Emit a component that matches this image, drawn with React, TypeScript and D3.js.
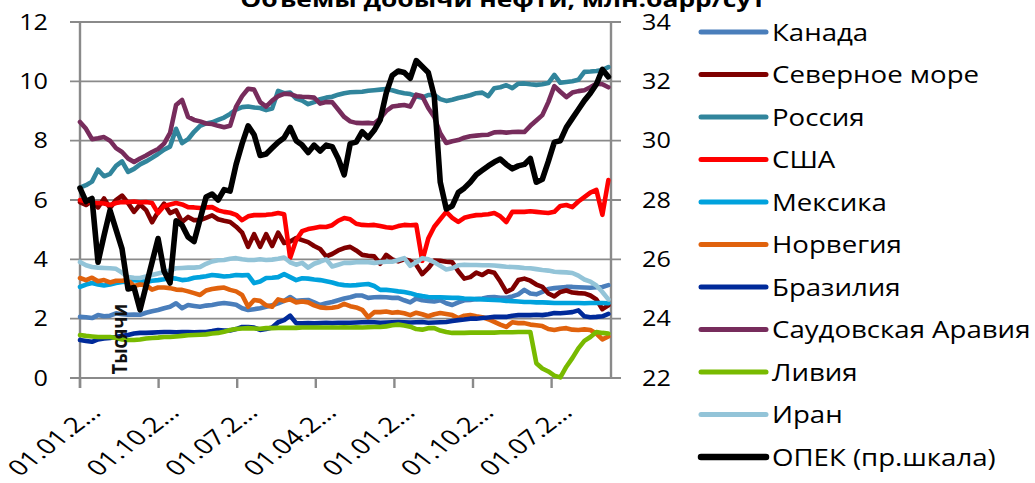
import React from "react";
import * as d3 from "d3";

// ---------- data ----------
const xTickMonths = [0, 9, 18, 27, 36, 45, 54];
const xTickLabels = ["01.01.2…", "01.10.2…", "01.07.2…", "01.04.2…", "01.01.2…", "01.10.2…", "01.07.2…"];
const leftTicks = [0, 2, 4, 6, 8, 10, 12];
const rightTicks = [22, 24, 26, 28, 30, 32, 34];
const obsStepMonths = 0.6875; // months between observations

const canada = [
  2.06, 2.05, 2.02, 2.12, 2.08, 2.1, 2.18, 2.15, 2.13, 2.14,
  2.13, 2.2, 2.25, 2.29, 2.35, 2.4, 2.52, 2.35, 2.46, 2.43,
  2.4, 2.44, 2.46, 2.5, 2.53, 2.5, 2.47, 2.35, 2.29, 2.32,
  2.35, 2.4, 2.45, 2.52, 2.6, 2.73, 2.6, 2.62, 2.63, 2.55,
  2.46, 2.52, 2.56, 2.62, 2.68, 2.72, 2.78, 2.78, 2.7, 2.72,
  2.73, 2.72, 2.7, 2.7, 2.62, 2.55, 2.68, 2.62, 2.6, 2.58,
  2.62, 2.52, 2.46, 2.55, 2.62, 2.63, 2.66, 2.68, 2.72, 2.73,
  2.7, 2.7, 2.75, 2.82, 2.97, 2.85, 2.82, 2.9, 3.0, 3.03,
  3.05, 3.07, 3.07, 3.06, 3.05, 3.04, 3.06, 3.07, 3.13,
];
const northSea = [
  5.93, 5.83, 5.98, 5.75, 6.05, 5.73, 6.0, 6.15, 5.9, 5.6,
  5.85, 5.66, 5.25, 5.6, 5.88, 5.56, 5.65, 5.26, 5.43, 5.32,
  5.32, 5.4, 5.48, 5.35, 5.3, 5.26, 5.1, 4.9, 4.42, 4.85,
  4.42, 4.85, 4.45, 4.9, 4.55, 4.6, 4.72, 4.65, 4.58, 4.45,
  4.35, 4.1, 4.18, 4.3, 4.38, 4.42, 4.3, 4.15, 4.12, 4.1,
  3.85, 4.15, 4.0, 3.93, 4.0, 3.95, 3.82, 3.5, 3.7, 3.96,
  3.95, 3.92, 3.9, 3.6, 3.35, 3.4, 3.55, 3.47, 3.6, 3.55,
  3.25, 2.9, 3.0, 3.3, 3.35, 3.28, 3.15, 3.07, 2.85, 2.75,
  2.9, 2.95, 2.88, 2.86, 2.85, 2.78, 2.65, 2.32, 2.45,
];
const russia = [
  6.42, 6.5, 6.62, 7.02, 6.8, 6.88, 7.15, 7.3, 6.95, 7.05,
  7.2, 7.3, 7.42, 7.55, 7.7, 7.8, 8.4, 7.92, 8.05, 8.3,
  8.5, 8.58, 8.62, 8.7, 8.78, 8.9, 9.05, 9.13, 9.15, 9.12,
  9.1, 9.03, 9.08, 9.68, 9.6, 9.62, 9.42, 9.35, 9.23, 9.3,
  9.4, 9.45, 9.48, 9.55, 9.6, 9.63, 9.64, 9.65, 9.68, 9.7,
  9.72, 9.74, 9.7, 9.64, 9.6, 9.57, 9.5, 9.45, 9.54, 9.54,
  9.4, 9.34, 9.38, 9.44, 9.48, 9.53, 9.6, 9.62, 9.5, 9.77,
  9.8, 9.87, 9.77, 9.92, 9.93, 9.9, 9.88, 9.9, 9.94, 10.22,
  9.95, 9.98, 10.0, 10.05, 10.32, 10.33, 10.35, 10.38, 10.48,
];
const usa = [
  6.0, 5.95, 5.9, 5.9, 5.88, 5.83, 5.9, 5.93, 5.93, 5.95,
  5.92, 5.93, 5.9, 5.56, 5.8, 5.85, 5.9, 5.85, 5.76, 5.75,
  5.73, 5.75, 5.76, 5.65, 5.6, 5.57, 5.5, 5.32, 5.45, 5.49,
  5.49, 5.5, 5.52, 5.56, 5.52, 4.05, 4.65, 4.95, 5.02, 5.06,
  5.1, 5.09, 5.15, 5.3, 5.39, 5.35, 5.2, 5.16, 5.15, 5.16,
  5.12, 5.08, 5.06, 5.12, 5.16, 5.15, 5.16, 3.95, 4.7, 5.1,
  5.35, 5.6, 5.4, 5.26, 5.4, 5.45, 5.49, 5.5, 5.52, 5.56,
  5.45, 5.26, 5.6, 5.6, 5.6, 5.62, 5.6, 5.58, 5.56, 5.6,
  5.8, 5.83, 5.76, 5.95, 6.1, 6.25, 6.34, 5.5, 6.67,
];
const mexico = [
  3.07, 3.15, 3.2, 3.15, 3.12, 3.15, 3.2, 3.24, 3.25, 3.3,
  3.28, 3.24, 3.28, 3.3, 3.33, 3.37, 3.35, 3.3, 3.32, 3.38,
  3.4, 3.43, 3.47, 3.45, 3.42, 3.44, 3.47, 3.46, 3.47, 3.2,
  3.25, 3.37, 3.38, 3.4, 3.5, 3.4, 3.3, 3.36, 3.35, 3.32,
  3.3, 3.26, 3.22, 3.16, 3.13, 3.12, 3.13, 3.15, 3.17, 3.1,
  2.97, 2.97, 2.95, 2.92, 2.9, 2.86, 2.8, 2.76, 2.73, 2.72,
  2.72, 2.71, 2.7, 2.7, 2.68, 2.67, 2.66, 2.65, 2.64, 2.63,
  2.62, 2.6, 2.59, 2.58, 2.56, 2.56, 2.55, 2.55, 2.54, 2.53,
  2.53, 2.53, 2.53, 2.53, 2.52, 2.53, 2.53, 2.53, 2.52,
];
const norway = [
  3.37, 3.3, 3.38, 3.26, 3.3, 3.22, 3.28, 3.28, 3.3, 3.1,
  3.15, 3.13, 2.98, 3.05, 3.05, 3.03, 2.98, 2.97, 2.92, 2.86,
  2.8, 2.95, 3.0, 3.03, 3.05, 2.97, 2.92, 2.8, 2.4, 2.63,
  2.6, 2.45, 2.4, 2.65, 2.6, 2.65, 2.55, 2.58, 2.55, 2.45,
  2.38, 2.36, 2.37, 2.4, 2.5, 2.42, 2.38, 2.3, 2.05, 2.22,
  2.22, 2.24, 2.2, 2.22, 2.18, 2.12, 2.2, 2.15, 2.08, 2.15,
  2.19, 2.16, 2.12, 2.02, 2.1, 2.12, 2.08, 2.05, 1.98, 1.89,
  1.8, 1.72, 1.88, 1.85, 1.85, 1.8, 1.78, 1.75, 1.65, 1.62,
  1.66, 1.68, 1.63, 1.62, 1.64, 1.62, 1.5, 1.3, 1.4,
];
const brazil = [
  1.28, 1.25, 1.22, 1.3, 1.33, 1.35, 1.38, 1.42, 1.45, 1.5,
  1.52, 1.52, 1.53, 1.54, 1.55, 1.55, 1.54, 1.55, 1.55, 1.54,
  1.55, 1.55, 1.58, 1.62, 1.6, 1.6, 1.65, 1.72, 1.72, 1.7,
  1.62, 1.65, 1.7, 1.88, 1.95, 2.1, 1.85, 1.84, 1.85, 1.84,
  1.85, 1.86, 1.85, 1.86, 1.86, 1.86, 1.87, 1.88, 1.89, 1.88,
  1.86, 1.87, 1.88, 1.89, 1.88, 1.87, 1.88, 1.89, 1.86, 1.87,
  1.88, 1.89, 1.92, 1.95, 1.97, 2.0, 2.0, 2.02, 2.04, 2.06,
  2.06, 2.06, 2.1, 2.12, 2.12, 2.12, 2.13, 2.12, 2.15, 2.19,
  2.18, 2.2, 2.22, 2.28, 2.08, 2.05, 2.06, 2.08, 2.16,
];
const saudi = [
  8.63, 8.4, 8.05, 8.08, 8.12, 8.0, 7.75, 7.62, 7.4, 7.28,
  7.4, 7.5, 7.62, 7.72, 7.9, 8.26, 9.2, 9.37, 8.8, 8.7,
  8.65, 8.58, 8.56, 8.5, 8.45, 8.5, 9.15, 9.5, 9.75, 9.72,
  9.3, 9.15, 9.35, 9.5, 9.58, 9.57, 9.5, 9.48, 9.47, 9.45,
  9.25, 9.3, 9.3, 9.05, 8.8, 8.65, 8.6, 8.59, 8.6, 8.58,
  8.75, 9.0, 9.15, 9.18, 9.2, 9.15, 9.55, 9.5, 9.1, 8.8,
  8.25, 7.92, 7.98, 8.02, 8.1, 8.15, 8.17, 8.19, 8.2, 8.28,
  8.29, 8.27, 8.29, 8.3, 8.29, 8.5, 8.68, 8.86, 9.3, 9.84,
  9.65, 9.47, 9.62, 9.67, 9.7, 9.8, 9.92, 9.9, 9.8,
];
const libya = [
  1.45, 1.42, 1.4, 1.38, 1.38, 1.38, 1.35, 1.3, 1.28, 1.28,
  1.3, 1.33, 1.35, 1.36, 1.38, 1.38, 1.4, 1.42, 1.44, 1.45,
  1.46, 1.47, 1.5, 1.52, 1.56, 1.62, 1.65, 1.67, 1.68, 1.67,
  1.66, 1.68, 1.68, 1.69, 1.69, 1.69, 1.69, 1.7, 1.7, 1.7,
  1.7, 1.7, 1.7, 1.7, 1.71, 1.7, 1.71, 1.7, 1.71, 1.72,
  1.72, 1.74, 1.78, 1.8, 1.77, 1.73, 1.65, 1.63, 1.68, 1.68,
  1.6, 1.55, 1.52, 1.52, 1.52, 1.53, 1.53, 1.53, 1.53, 1.53,
  1.54, 1.54, 1.54, 1.55, 1.55, 1.55, 0.5, 0.32, 0.22, 0.08,
  0.02, 0.38, 0.67, 1.0, 1.25, 1.38, 1.55, 1.52, 1.5,
];
const iran = [
  3.91, 3.8, 3.74, 3.72, 3.71, 3.7, 3.68, 3.55, 3.4, 3.38,
  3.37, 3.42, 3.47, 3.52, 3.57, 3.62, 3.7, 3.71, 3.72, 3.72,
  3.74, 3.85, 3.93, 3.97, 3.98, 4.02, 4.04, 4.0, 3.98, 3.98,
  4.0, 3.98, 3.99, 4.02, 4.06, 3.9, 3.82, 3.88, 3.72, 3.85,
  3.92, 4.0, 3.76, 3.82, 3.88, 3.88, 3.9, 3.91, 3.9, 3.88,
  3.9, 3.92, 3.92, 3.98, 4.04, 3.78, 3.9, 4.04, 4.0, 3.9,
  3.78, 3.66, 3.7, 3.8, 3.82, 3.81, 3.81, 3.8, 3.8, 3.79,
  3.77, 3.75, 3.74, 3.73, 3.71, 3.7, 3.67, 3.64, 3.62, 3.58,
  3.57, 3.56, 3.54, 3.45, 3.32, 3.25, 3.12, 2.9, 2.65,
];
const opec = [
  28.4, 27.95, 28.05, 25.9, 26.8, 27.65, 27.0, 26.35, 25.0, 25.05,
  24.3, 25.1, 25.9, 26.7, 25.6, 25.2, 27.3, 27.15, 26.75, 26.6,
  27.35, 28.1, 28.2, 28.0, 28.35, 28.3, 29.2, 29.9, 30.5, 30.2,
  29.5, 29.55, 29.75, 29.95, 30.1, 30.45, 30.0, 29.85, 29.6, 29.85,
  29.65, 29.85, 29.8, 29.4, 28.85, 29.9, 29.95, 30.3, 30.1, 30.35,
  30.7, 31.6, 32.2, 32.35, 32.3, 32.1, 32.7, 32.5, 32.3, 31.5,
  28.6, 27.7, 27.8, 28.25, 28.4, 28.6, 28.85, 29.0, 29.15, 29.28,
  29.38, 29.2, 29.05, 29.15, 29.2, 29.4, 28.6, 28.7, 29.3, 29.95,
  30.0, 30.45, 30.75, 31.05, 31.35, 31.6, 31.9, 32.4, 32.15,
];

const seriesNames = [
  "Канада", "Северное море", "Россия", "США", "Мексика", "Норвегия",
  "Бразилия", "Саудовская Аравия", "Ливия", "Иран", "ОПЕК (пр.шкала)",
];
const seriesValues = [canada, northSea, russia, usa, mexico, norway, brazil, saudi, libya, iran, opec];
const seriesColors = [
  "#4A7EBB", "#7F0000", "#31859C", "#FF0000", "#00A2DD", "#E0620D",
  "#002A9A", "#772C5C", "#78BA00", "#93C4D8", "#000000",
];
const seriesOnRight = [false, false, false, false, false, false, false, false, false, false, true];

const titleText = "Объемы добычи нефти, млн.барр/сут";
const yTitleText = "Тысячи";

// ---------- layout ----------
const W = 1035;
const H = 483;
const PL = 80, PR = 611, PT = 22, PB = 378;
const SX = 1.2; // horizontal glyph stretch
const SX_LEG = 1.15;
const SX_XLAB = 1.3;
const FONT = "'Open Sans', 'Noto Sans', sans-serif";
const AXIS = "#8a8a8a";

const x = d3.scaleLinear().domain([0, 60.8]).range([PL, PR]);
const yL = d3.scaleLinear().domain([0, 12]).range([PB, PT]);
const yR = d3.scaleLinear().domain([22, 34]).range([PB, PT]);

export default function App() {
  const lineL = d3.line<number>().x((_, i) => x(i * obsStepMonths)).y((d) => yL(d)).curve(d3.curveLinear);
  const lineR = d3.line<number>().x((_, i) => x(i * obsStepMonths)).y((d) => yR(d)).curve(d3.curveLinear);

  return (
    <div style={{ position: "fixed", left: 0, top: 0, width: W, height: H, background: "#fff" }}>
      <svg width={W} height={H} style={{ display: "block" }} fontFamily={FONT}>
        <rect width={W} height={H} fill="#fff" />
        {/* gridlines */}
        {leftTicks.map((t) => (
          <line key={"g" + t} x1={PL - 10} x2={PR + 10} y1={yL(t)} y2={yL(t)} stroke={AXIS} strokeWidth={1.8} />
        ))}
        {/* axes */}
        <line x1={PL} x2={PL} y1={PT} y2={PB + 10} stroke={AXIS} strokeWidth={2.4} />
        <line x1={PR} x2={PR} y1={PT} y2={PB} stroke={AXIS} strokeWidth={2.4} />
        {xTickMonths.map((m) => (
          <line key={"xt" + m} x1={x(m)} x2={x(m)} y1={PB} y2={PB + 10} stroke={AXIS} strokeWidth={2.4} />
        ))}
        {/* left tick labels */}
        {leftTicks.map((t) => (
          <text key={"lt" + t} transform={`translate(${48},${yL(t) + 7.5}) scale(${SX},1)`} textAnchor="end" fontSize={21} fill="#000">
            {t}
          </text>
        ))}
        {rightTicks.map((t) => (
          <text key={"rt" + t} transform={`translate(${642},${yR(t) + 7.5}) scale(${SX},1)`} textAnchor="start" fontSize={21} fill="#000">
            {t}
          </text>
        ))}
        {/* x labels */}
        {xTickMonths.map((m, i) => (
          <text key={"xl" + i} transform={`translate(${x(m) + 22},${414}) scale(${SX_XLAB},1) rotate(-45)`} textAnchor="end" fontSize={21.5} fill="#000">
            {xTickLabels[i]}
          </text>
        ))}
        {/* series */}
        {seriesValues.map((vals, si) => (
          <path
            key={"s" + si}
            d={(seriesOnRight[si] ? lineR : lineL)(vals) || ""}
            fill="none"
            stroke={seriesColors[si]}
            strokeWidth={seriesOnRight[si] ? 5.6 : 4.6}
            strokeLinejoin="round"
            strokeLinecap="round"
          />
        ))}
        {/* y title */}
        <text transform={`translate(${127},${339}) scale(${SX},1) rotate(-90)`} textAnchor="middle" fontSize={18} fontWeight="bold" fill="#111">
          {yTitleText}
        </text>
        {/* title */}
        <text transform={`translate(${503},${7}) scale(${SX},1)`} textAnchor="middle" fontSize={22} fontWeight="bold" fill="#000">
          {titleText}
        </text>
        {/* legend */}
        {seriesNames.map((n, i) => {
          const ly = 32 + i * 42.5;
          return (
            <g key={"lg" + i}>
              <line x1={701} x2={766} y1={ly} y2={ly} stroke={seriesColors[i]} strokeWidth={seriesOnRight[i] ? 6.5 : 5} strokeLinecap="round" />
              <text transform={`translate(${772},${ly + 8.5}) scale(${SX_LEG},1)`} fontSize={24} fill="#000">
                {n}
              </text>
            </g>
          );
        })}
      </svg>
    </div>
  );
}
